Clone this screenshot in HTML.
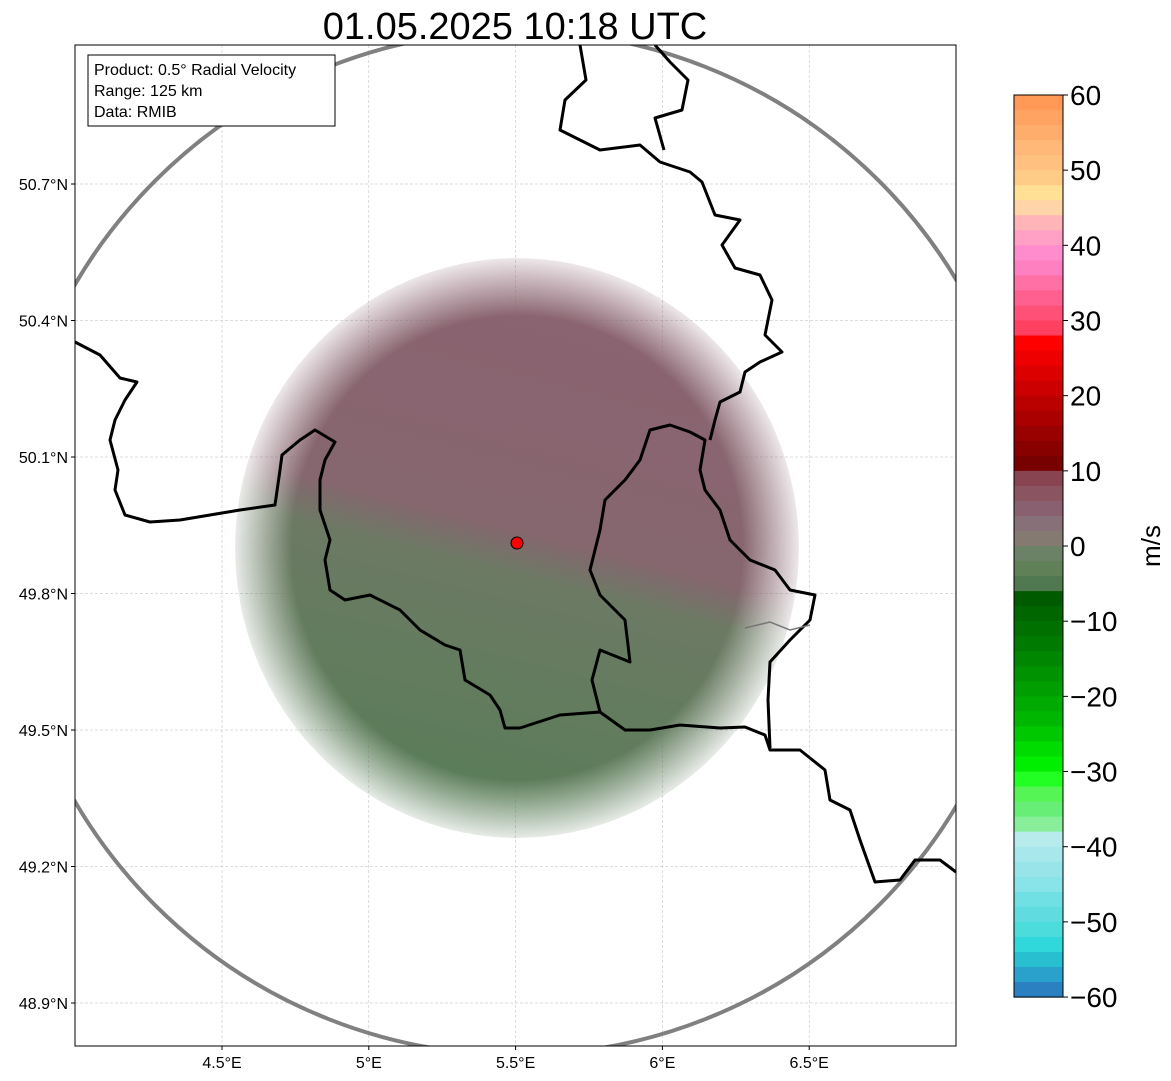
<!DOCTYPE html>
<html><head><meta charset="utf-8"><style>
body{margin:0;background:#fff;width:1171px;height:1081px;overflow:hidden;font-family:"Liberation Sans","DejaVu Sans",sans-serif}
svg{position:absolute;left:0;top:0}
</style></head><body>
<svg id="s" width="1171" height="1081">
<defs>
<clipPath id="mapclip"><rect x="75" y="45" width="881" height="1001"/></clipPath>
<linearGradient id="echoGrad" gradientUnits="userSpaceOnUse" x1="578" y1="310" x2="456" y2="790">
<stop offset="0" stop-color="#8a6470"/><stop offset="0.46" stop-color="#86666f"/>
<stop offset="0.55" stop-color="#6c7a64"/><stop offset="1" stop-color="#5a7d58"/></linearGradient>
<radialGradient id="fade"><stop offset="0.8" stop-color="#fff" stop-opacity="1"/><stop offset="1" stop-color="#fff" stop-opacity="0.15"/></radialGradient>
<mask id="echoMask"><ellipse cx="517" cy="548" rx="282" ry="290" fill="url(#fade)"/></mask>
</defs>
<text x="515" y="39" font-size="38" text-anchor="middle">01.05.2025 10:18 UTC</text>
<g clip-path="url(#mapclip)">
<g id="grid"></g>
<g mask="url(#echoMask)">
<ellipse cx="517" cy="548" rx="282" ry="290" fill="url(#echoGrad)"/>
</g>
<circle cx="517" cy="543" r="512" fill="none" stroke="#808080" stroke-width="4"/>
<g fill="none" stroke="#000" stroke-width="3" stroke-linejoin="round">
<polyline points="75,342 100,355 120,378 137,382 125,400 115,420 110,440 118,470 115,490 125,515 150,522 180,520 210,515 240,510 275,505 280,470 282,455 300,440 315,430 335,442 325,460 320,480 320,510 330,540 325,560 330,590 345,600 370,595 400,610 420,630 445,645 460,650 465,680 490,695 500,710 505,728 520,728 560,715 600,712 625,730 650,730 680,725 720,728 745,727 765,735 770,750 800,750 825,770 830,800 850,810 860,840 875,882 900,880 915,860 940,860 956,872"/>
<polyline points="600,712 592,680 600,650 630,662 625,620 600,595 590,570 600,530 605,500 625,480 640,460 650,430 670,425 690,432 705,440 700,470 705,490 720,510 730,540 750,560 775,570 790,590 815,595 810,620 790,640 770,662 768,700 770,748"/>
<polyline points="580,45 586,80 565,100 560,130 580,140 600,150 640,145 660,162 690,172 702,182 715,215 740,220 722,245 735,268 760,275 772,300 765,335 782,352 760,362 745,372 740,392 720,402 715,420 710,440"/>
<polyline points="655,45 670,62 688,80 682,110 655,118 664,150"/>
</g>
<polyline points="745,628 770,622 790,630 810,625 M745,688 760,682" fill="none" stroke="#777" stroke-width="1.5"/>
<circle cx="517" cy="543" r="6" fill="#f00" stroke="#000" stroke-width="1"/>
</g>
<rect x="75" y="45" width="881" height="1001" fill="none" stroke="#000" stroke-width="1"/>
<g id="xt"></g>
<g id="yt"></g>
<g>
<rect x="88" y="55" width="247" height="71" fill="#fff" stroke="#000" stroke-width="1"/>
<text x="94" y="75" font-size="16">Product: 0.5° Radial Velocity</text>
<text x="94" y="96" font-size="16">Range: 125 km</text>
<text x="94" y="117" font-size="16">Data: RMIB</text>
</g>
<g id="cb"></g>
<text transform="translate(1160,546) rotate(-90)" font-size="26" text-anchor="middle">m/s</text>
</svg>
<script>
const lonTicks=[4.5,5,5.5,6,6.5];
const lonLabels=["4.5°E","5°E","5.5°E","6°E","6.5°E"];
const latTicks=[50.7,50.4,50.1,49.8,49.5,49.2,48.9];
const latLabels=["50.7°N","50.4°N","50.1°N","49.8°N","49.5°N","49.2°N","48.9°N"];
const cbTicks=[60,50,40,30,20,10,0,-10,-20,-30,-40,-50,-60];
const cbColors=["#ff9955","#ffa363","#ffad6c","#ffb877","#ffc080","#ffcc88","#ffe095","#ffd4a8","#ffb4b8","#ffa0c4","#ff8ccc","#ff80c0","#ff70a4","#ff6090","#ff5078","#ff4060","#ff0000","#ee0000","#dd0000","#cc0000","#bb0000","#aa0000","#990000","#880000","#770000","#884450","#8a5560","#886070","#887078","#857a72","#6c8266","#608058","#507850","#005a00","#006600","#007000","#007a00","#008600","#009200","#009e00","#00aa00","#00b600","#00c800","#00dc00","#00ee00","#22ff22","#55f555","#66ee77","#88ee99","#b8ecec","#a8e8ec","#98e4e8","#88e4e8","#70e0e4","#60dce0","#4cdcdc","#30d8dc","#28c0d0","#2aa0cc","#2a80c0"];
const X=v=>222+(v-4.5)*293.6, Y=v=>184+(50.7-v)*455;
const VY=v=>95+(60-v)*7.517;
const ns="http://www.w3.org/2000/svg";
function mk(t,p,a){const e=document.createElementNS(ns,t);for(const k in a)e.setAttribute(k,a[k]);p.appendChild(e);return e;}
const g=document.getElementById('grid'),xt=document.getElementById('xt'),yt=document.getElementById('yt'),cb=document.getElementById('cb');
lonTicks.forEach((v,i)=>{const x=X(v);
 const l=mk('line',g,{x1:x,x2:x,y1:45,y2:1046,stroke:'#bbb','stroke-width':0.5,'stroke-dasharray':'3,2'});
 
 
 mk('line',xt,{x1:x,x2:x,y1:1046,y2:1050,stroke:'#000'});
 const t=mk('text',xt,{x:x,y:1068,'font-size':16,'text-anchor':'middle'});t.textContent=lonLabels[i];
 
 });
latTicks.forEach((v,i)=>{const y=Y(v);
 const l=mk('line',g,{x1:75,x2:956,y1:y,y2:y,stroke:'#bbb','stroke-width':0.5,'stroke-dasharray':'3,2'});
 
 
 mk('line',yt,{x1:71,x2:75,y1:y,y2:y,stroke:'#000'});
 const t=mk('text',yt,{x:68,y:y+6,'font-size':16,'text-anchor':'end'});t.textContent=latLabels[i];
 
 });
const step=120/cbColors.length;
cbColors.forEach((c,i)=>{const v0=60-i*step;
 const r=mk('rect',cb,{x:1014,y:VY(v0),width:49,height:VY(v0-step)-VY(v0)+0.6,fill:c});
 
 });
mk('rect',cb,{x:1014,y:VY(60),width:49,height:VY(-60)-VY(60),fill:'none',stroke:'#000','stroke-width':1});
cbTicks.forEach(v=>{const y=VY(v);
 mk('line',cb,{x1:1063,x2:1068,y1:y,y2:y,stroke:'#000'});
 const t=mk('text',cb,{x:1070,y:y+10,'font-size':28});t.textContent=v<0?'\u2212'+(-v):String(v);
 
 });
</script>
</body></html>
